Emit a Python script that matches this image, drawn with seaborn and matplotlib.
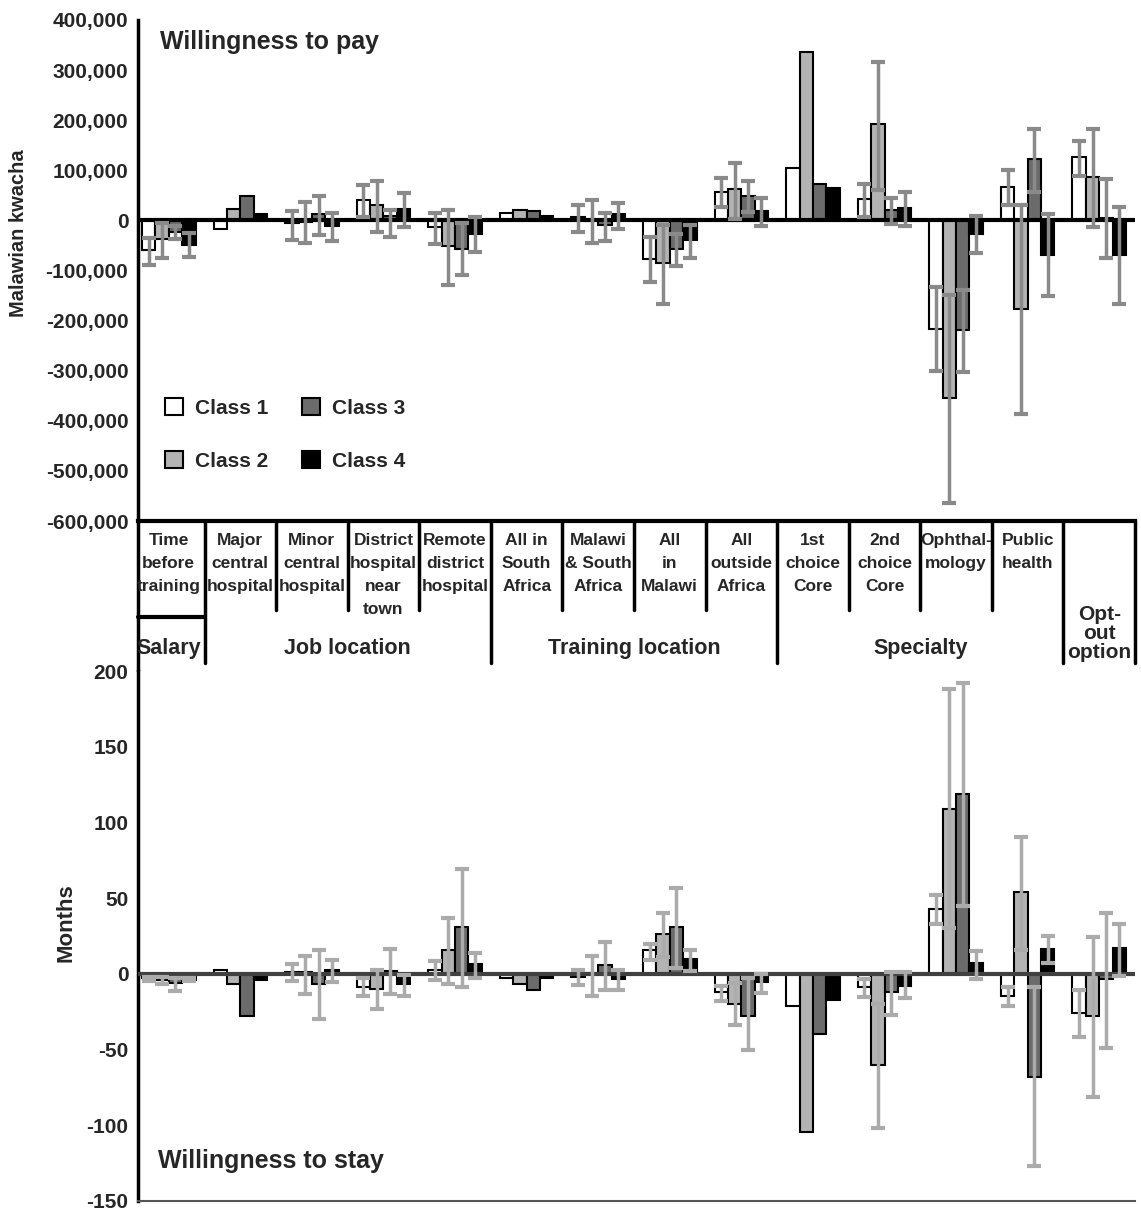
import numpy as np
import pandas as pd
import seaborn as sns
import matplotlib.pyplot as plt
from matplotlib.patches import Patch
from matplotlib.ticker import FuncFormatter

# categories (x axis) and their labels in the table between the panels
categories = ["Time before training", "Major central hospital", "Minor central hospital",
              "District hospital near town", "Remote district hospital", "All in South Africa",
              "Malawi & South Africa", "All in Malawi", "All outside Africa", "1st choice Core",
              "2nd choice Core", "Ophthalmology", "Public health", "Opt-out option"]
cat_labels = ["Time\nbefore\ntraining", "Major\ncentral\nhospital", "Minor\ncentral\nhospital",
              "District\nhospital\nnear\ntown", "Remote\ndistrict\nhospital", "All in\nSouth\nAfrica",
              "Malawi\n& South\nAfrica", "All\nin\nMalawi", "All\noutside\nAfrica", "1st\nchoice\nCore",
              "2nd\nchoice\nCore", "Ophthal-\nmology", "Public\nhealth", ""]
group_names = ["Salary", "Job location", "Training location", "Specialty", "Opt-\nout\noption"]
group_start = [0, 1, 5, 9, 13]
group_end = [0, 4, 8, 12, 13]

classes = ["Class 1", "Class 2", "Class 3", "Class 4"]
class_colors = ["#ffffff", "#b3b3b3", "#6b6b6b", "#000000"]

nan = np.nan

# willingness to pay (Malawian kwacha)
wtp_c1 = [-60000, -18000, -5000, 40000, -13000, 14000, 6000, -77000, 57000, 104000, 42000, -216000, 67000, 127000]
wtp_c2 = [-38000, 22000, -3000, 30000, -51000, 21000, -2000, -85000, 62000, 336000, 192000, -355000, -177000, 87000]
wtp_c3 = [-24000, 48000, 12000, 8000, -57000, 18000, -10000, -57000, 49000, 72000, 21000, -219000, 122000, 5000]
wtp_c4 = [-50000, 13000, -12000, 23000, -27000, 8000, 13000, -40000, 19000, 65000, 25000, -28000, -69000, -70000]

wtp_lo_c1 = [-89000, nan, -40000, 6000, -47000, nan, -23000, -122000, 26000, nan, 7000, -301000, 30000, 89000]
wtp_hi_c1 = [-36000, nan, 18000, 70000, 14000, nan, 31000, -34000, 84000, nan, 72000, -133000, 100000, 159000]
wtp_lo_c2 = [-76000, nan, -45000, -23000, -128000, nan, -45000, -166000, 3000, nan, 60000, -565000, -387000, -13000]
wtp_hi_c2 = [-5000, nan, 37000, 79000, 21000, nan, 41000, -9000, 115000, nan, 317000, -149000, 30000, 182000]
wtp_lo_c3 = [-38000, nan, -29000, -33000, -108000, nan, -41000, -91000, 17000, nan, -8000, -303000, 57000, -75000]
wtp_hi_c3 = [-12000, nan, 48000, 21000, -6000, nan, 14000, -28000, 79000, nan, 45000, -138000, 182000, 82000]
wtp_lo_c4 = [-74000, nan, -42000, -13000, -63000, nan, -17000, -75000, -11000, nan, -11000, -65000, -151000, -167000]
wtp_hi_c4 = [-26000, nan, 14000, 55000, 7000, nan, 35000, -10000, 44000, nan, 57000, 9000, 13000, 27000]

# willingness to stay (months)
wts_c1 = [-3, 2.8, 1.3, -8.5, 2.4, -3, -2, 15.5, -12, -21, -9, 43, -14.4, -26]
wts_c2 = [-4, -7, 1, -10, 15.5, -7, 0.5, 26.3, -19.8, -104.6, -60, 109, 54, -27.5]
wts_c3 = [-6, -27.5, -6.7, 2, 30.7, -10.7, 6, 31, -28, -40, -12.2, 119, -67.8, -3.5]
wts_c4 = [-4, -4, 2.8, -6.7, 6.3, -2.6, -3.7, 9.6, -5.7, -17, -8, 7, 16.5, 17]

wts_lo_c1 = [-5, nan, -4.8, -14.6, -4, nan, -7.4, 9, -17.8, nan, -15, 33, -21, -42]
wts_hi_c1 = [-2, nan, 6.3, -3, 8.3, nan, 2.8, 19.8, -8, nan, -3.5, 52, -8.5, -10.7]
wts_lo_c2 = [-6.5, nan, -13, -23, -6.7, nan, -14.6, 11, -34, nan, -102, 30, 16, -81]
wts_hi_c2 = [-2, nan, 12, 2.4, 36.6, nan, 12, 40, -6, nan, -20, 188, 90.7, 24.6]
wts_lo_c3 = [-11, nan, -30, -13.5, -9, nan, -10.7, 4, -50, nan, -27, 45, -127, -49]
wts_hi_c3 = [-2.6, nan, 15.5, 16.5, 69.5, nan, 21, 56.4, -3, nan, 1, 192, -8.5, 40.5]
wts_lo_c4 = [-5, nan, -5.2, -14.6, -3, nan, -10.7, 2, -12.4, nan, -16, -3.5, 7, -1.5]
wts_hi_c4 = [-2.6, nan, 9.4, -1, 13.7, nan, 2.4, 16, 0, nan, 1.3, 15, 25, 33]

sns.set_style("white")
plt.rcParams["font.family"] = ["Liberation Sans", "DejaVu Sans"]
plt.rcParams["font.weight"] = "bold"
plt.rcParams["axes.labelweight"] = "bold"
plt.rcParams["axes.unicode_minus"] = False

XMIN, XMAX = -0.43, 13.5


def draw_panel(ax, vals, los, his, err_color, zero_color):
    df = pd.DataFrame({
        "category": np.tile(categories, 4),
        "cls": np.repeat(classes, len(categories)),
        "value": np.concatenate(vals),
        "lo": np.concatenate(los),
        "hi": np.concatenate(his),
    })
    sns.barplot(data=df, x="category", y="value", hue="cls", order=categories,
                hue_order=classes, palette=class_colors, edgecolor="black",
                linewidth=1.5, width=0.75, errorbar=None, legend=False, ax=ax, zorder=2)
    ax.axhline(0, color=zero_color, lw=3, zorder=3)
    # confidence intervals, placed on the bars seaborn drew
    bar_conts = list(ax.containers)
    for k, cont in enumerate(bar_conts):
        sub = df[df["cls"] == classes[k]]
        xs = np.array([p.get_x() + p.get_width() / 2 for p in cont.patches])
        lo = sub["lo"].to_numpy()
        hi = sub["hi"].to_numpy()
        ok = ~np.isnan(lo)
        mid = (lo[ok] + hi[ok]) / 2
        ax.errorbar(xs[ok], mid, yerr=[mid - lo[ok], hi[ok] - mid], fmt="none",
                    ecolor=err_color, elinewidth=2.5, capsize=5, capthick=3, zorder=4)
    ax.set_xlim(XMIN, XMAX)
    ax.set_xticks([])
    ax.set_xlabel("")
    ax.tick_params(axis="y", length=0, pad=7, labelsize=15)
    for s in ["top", "right"]:
        ax.spines[s].set_visible(False)
    ax.spines["left"].set_linewidth(2.5)
    ax.spines["left"].set_color("black")


fig = plt.figure(figsize=(11.41, 12.12), dpi=100)
ax_top = fig.add_axes([0.12095, 0.57013, 0.8738, 0.41337])
ax_mid = fig.add_axes([0.12095, 0.44637, 0.8738, 0.12376])
ax_bot = fig.add_axes([0.12095, 0.009076, 0.8738, 0.43729])

draw_panel(ax_top, [wtp_c1, wtp_c2, wtp_c3, wtp_c4],
           [wtp_lo_c1, wtp_lo_c2, wtp_lo_c3, wtp_lo_c4],
           [wtp_hi_c1, wtp_hi_c2, wtp_hi_c3, wtp_hi_c4], "#8a8a8a", "black")
ax_top.set_ylim(-600000, 400000)
ax_top.set_yticks(np.arange(-600000, 400001, 100000))
ax_top.yaxis.set_major_formatter(FuncFormatter(lambda v, p: f"{int(v):,}"))
ax_top.spines["bottom"].set_linewidth(3)
ax_top.spines["bottom"].set_color("black")
ax_top.set_ylabel("Malawian kwacha", fontsize=14.5)
ax_top.yaxis.set_label_coords(-0.110, 0.575)
ax_top.text(0.022, 0.956, "Willingness to pay", transform=ax_top.transAxes,
            fontsize=18, weight="bold", va="center")

draw_panel(ax_bot, [wts_c1, wts_c2, wts_c3, wts_c4],
           [wts_lo_c1, wts_lo_c2, wts_lo_c3, wts_lo_c4],
           [wts_hi_c1, wts_hi_c2, wts_hi_c3, wts_hi_c4], "#ababab", "#404040")
ax_bot.set_ylim(-150, 200)
ax_bot.set_yticks(np.arange(-150, 201, 50))
ax_bot.spines["bottom"].set_linewidth(1.5)
ax_bot.spines["bottom"].set_color("#555555")
ax_bot.set_ylabel("Months", fontsize=16)
ax_bot.yaxis.set_label_coords(-0.062, 0.526)
ax_bot.text(0.02, 0.075, "Willingness to stay", transform=ax_bot.transAxes,
            fontsize=18, weight="bold", va="center")

# legend
handles = [Patch(facecolor=c, edgecolor="black", lw=1.5, label=l) for c, l in zip(class_colors, classes)]
ax_top.legend(handles=handles, ncol=2, loc="upper left", bbox_to_anchor=(0.027, 0.245),
              frameon=False, prop={"size": 15, "weight": "bold"}, handlelength=0.85,
              handleheight=0.85, handletextpad=0.6, labelspacing=1.6, columnspacing=1.6,
              borderpad=0, borderaxespad=0)

# table of category / attribute labels
ax_mid.set_xlim(XMIN, XMAX)
ax_mid.set_ylim(0, 1)
ax_mid.axis("off")
ax_mid.plot([XMIN, XMIN], [0, 1], color="black", lw=2.5, clip_on=False)
long_bounds = [e + 0.5 for e in group_end]
for b in np.arange(0.5, len(categories), 1.0):
    bottom = 0.053 if b in long_bounds else 0.407
    ax_mid.plot([b, b], [1, bottom], color="black", lw=2.5, solid_capstyle="round", clip_on=False)
ax_mid.plot([XMIN, 0.5], [0.363, 0.363], color="black", lw=3, clip_on=False)
for i, lab in enumerate(cat_labels):
    ax_mid.text(i, 0.92, lab, ha="center", va="top", fontsize=12.5, weight="bold", linespacing=1.66)
for name, s, e in zip(group_names, group_start, group_end):
    if "\n" in name:
        ax_mid.text((s + e) / 2, 0.06, name, ha="center", va="bottom", fontsize=15,
                    weight="bold", linespacing=1.0)
    else:
        ax_mid.text((s + e) / 2, 0.153, name, ha="center", va="center", fontsize=15.5, weight="bold")

fig.savefig("out.png", dpi=100)
